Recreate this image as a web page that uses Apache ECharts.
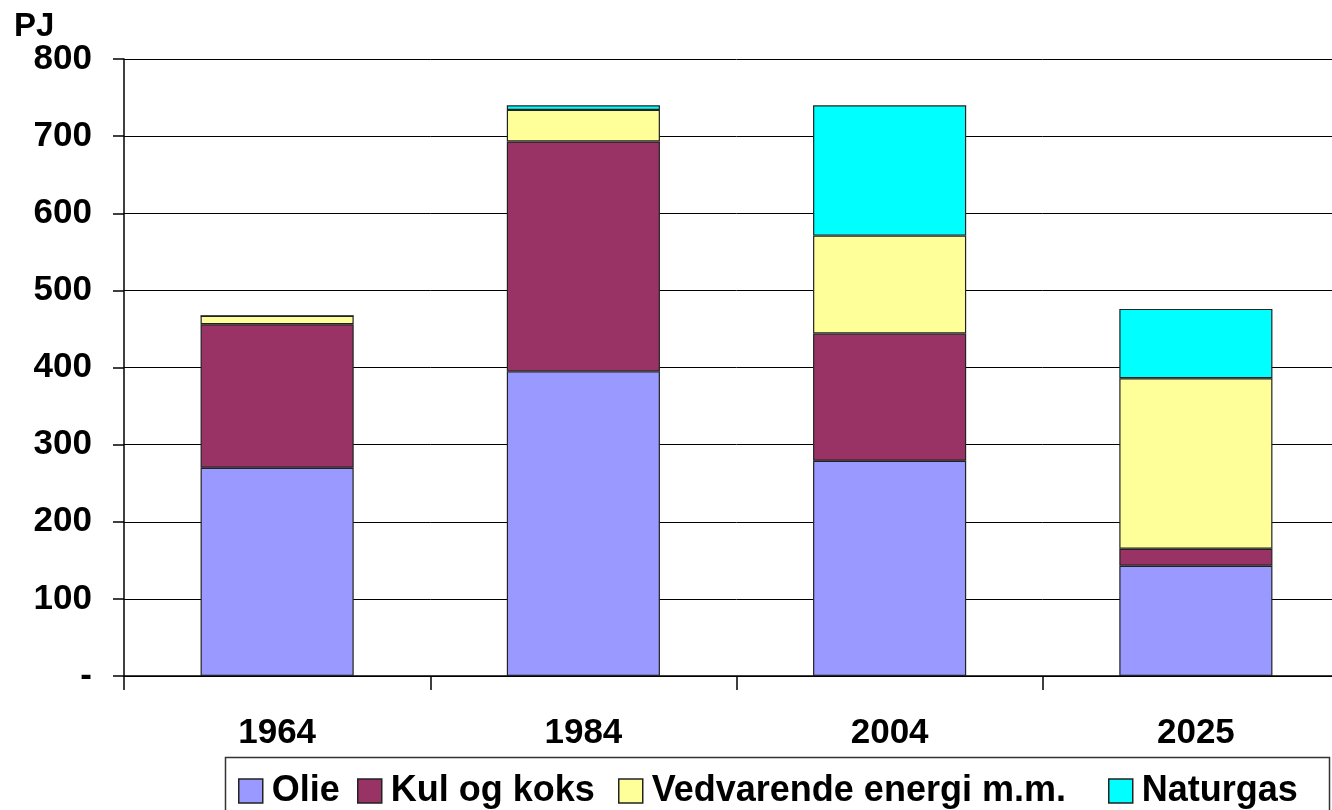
<!DOCTYPE html>
<html>
<head>
<meta charset="utf-8">
<script src="https://cdn.jsdelivr.net/npm/echarts@6/dist/echarts.min.js"></script>
<style>html,body{margin:0;padding:0;background:#fff;overflow:hidden}#c{width:1349px;height:810px}</style>
</head>
<body>
<div id="c"></div>
<script>
var categories = ['1964', '1984', '2004', '2025'];
var olie = [270, 395, 279, 143];
var kul = [186, 298, 165, 22];
var vedvarende = [11, 41, 127, 221];
var naturgas = [0, 6, 169, 90];
var seriesNames = ['Olie', 'Kul og koks', 'Vedvarende energi m.m.', 'Naturgas'];
var yTicks = [0, 100, 200, 300, 400, 500, 600, 700, 800];

var colors = ['#9999FF', '#993366', '#FFFF99', '#00FFFF'];
var legendLefts = [238, 357, 618, 1108];
var FONT = '"Liberation Sans", Arial, sans-serif';
var chart = echarts.init(document.getElementById('c'), null, {renderer: 'canvas'});
function mk(name, data, i) {
  return {
    name: name, type: 'bar', stack: 'a', data: data, barWidth: '50%',
    itemStyle: {color: colors[i], borderColor: '#222', borderWidth: 1.2},
    animation: false
  };
}
var legends = seriesNames.map(function (n, i) {
  return {
    left: legendLefts[i], top: 773, itemWidth: 24, itemHeight: 24, padding: 0,
    icon: 'rect',
    data: [{name: n, itemStyle: {borderColor: '#222', borderWidth: 1.5}}],
    textStyle: {fontSize: 36, fontWeight: 'bold', color: '#000', fontFamily: FONT, padding: [0, 0, 0, 4]}
  };
});
chart.setOption({
  animation: false,
  textStyle: {fontFamily: FONT},
  grid: {left: 124, top: 59, bottom: 134, right: 0, containLabel: false},
  graphic: [
    {type: 'text', left: 14, top: 10, style: {text: 'PJ', font: 'bold 33px ' + FONT, fill: '#000'}},
    {type: 'rect', shape: {x: 225.5, y: 757.5, width: 1104, height: 80}, style: {fill: 'none', stroke: '#333', lineWidth: 1.5}}
  ],
  legend: legends,
  xAxis: {
    type: 'category', data: categories, boundaryGap: true,
    axisLine: {lineStyle: {color: '#000', width: 1.5}},
    axisTick: {show: true, length: 14, alignWithLabel: false, lineStyle: {color: '#000', width: 1.5}},
    axisLabel: {fontSize: 35, fontWeight: 'bold', color: '#000', margin: 40, fontFamily: FONT}
  },
  yAxis: {
    type: 'value', min: yTicks[0], max: yTicks[yTicks.length - 1], interval: 100,
    axisLine: {show: true, lineStyle: {color: '#000', width: 1.5}},
    axisTick: {show: true, length: 11, lineStyle: {color: '#000', width: 1.5}},
    splitLine: {show: true, lineStyle: {color: '#000', width: 1}},
    axisLabel: {
      fontSize: 35, fontWeight: 'bold', color: '#000', margin: 32, fontFamily: FONT,
      formatter: function (v) { return v === 0 ? '-' : String(v); }
    }
  },
  series: [
    mk(seriesNames[0], olie, 0),
    mk(seriesNames[1], kul, 1),
    mk(seriesNames[2], vedvarende, 2),
    mk(seriesNames[3], naturgas, 3)
  ]
});
</script>
</body>
</html>
